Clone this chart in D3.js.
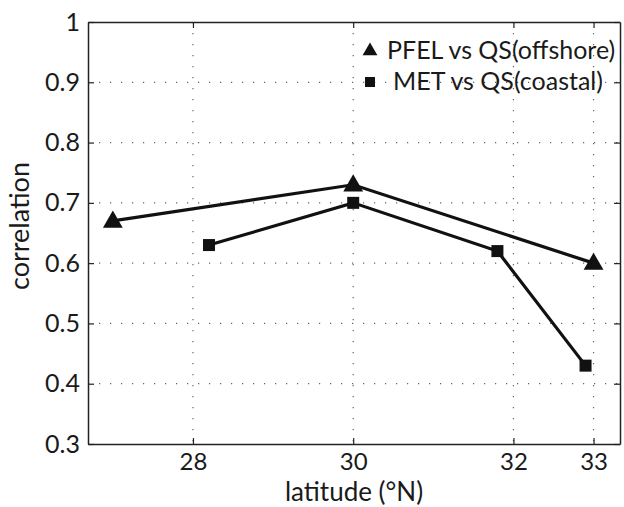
<!DOCTYPE html>
<html><head><meta charset="utf-8">
<script src="https://cdn.jsdelivr.net/npm/d3@7"></script>
<style>body{margin:0;background:#fff}svg{display:block}</style>
</head><body>
<svg id="c" width="624" height="507"></svg>
<script>
const pfelLat = [27.0, 30.0, 33.0];
const pfelCorr = [0.67, 0.73, 0.60];
const metLat = [28.2, 30.0, 31.8, 32.9];
const metCorr = [0.63, 0.70, 0.62, 0.43];
const xTicks = [28, 30, 32, 33];
const yTicks = [0.3, 0.4, 0.5, 0.6, 0.7, 0.8, 0.9, 1];
const legendLabels = ["PFEL vs QS(offshore)", "MET vs QS(coastal)"];

const font = "Lato, 'Open Sans', sans-serif";
const svg = d3.select("#c");
const L = 88, R = 620, T = 22, B = 444;
const x = d3.scaleLinear().domain([26.69, 33.33]).range([L, R]);
const y = d3.scaleLinear().domain([0.3, 1]).range([B, T]);

// grid
const g = svg.append("g");
g.selectAll(".gx").data(xTicks).join("line")
  .attr("x1", d => x(d)).attr("x2", d => x(d)).attr("y1", T).attr("y2", B)
  .attr("stroke", "#666").attr("stroke-width", 1.2).attr("stroke-dasharray", "1.2,9.8");
g.selectAll(".gy").data(yTicks.slice(1, -1)).join("line")
  .attr("x1", L).attr("x2", R).attr("y1", d => y(d)).attr("y2", d => y(d))
  .attr("stroke", "#666").attr("stroke-width", 1.2).attr("stroke-dasharray", "1.2,9.8");

// axes with inward ticks
const fmt = d => d === 1 ? "1" : d3.format(".1f")(d);
const axB = svg.append("g").attr("transform", `translate(0,${B})`)
  .call(d3.axisBottom(x).tickValues(xTicks).tickSizeInner(-6).tickSizeOuter(0).tickPadding(26).tickFormat(d3.format("d")));
const axT = svg.append("g").attr("transform", `translate(0,${T})`)
  .call(d3.axisTop(x).tickValues(xTicks).tickSizeInner(-6).tickSizeOuter(0).tickFormat(""));
const axL = svg.append("g").attr("transform", `translate(${L},0)`)
  .call(d3.axisLeft(y).tickValues(yTicks).tickSizeInner(-6).tickSizeOuter(0).tickPadding(8).tickFormat(fmt));
const axR = svg.append("g").attr("transform", `translate(${R},0)`)
  .call(d3.axisRight(y).tickValues(yTicks).tickSizeInner(-6).tickSizeOuter(0).tickFormat(""));
[axB, axT, axL, axR].forEach(a => {
  a.select(".domain").attr("stroke", "#222").attr("stroke-width", 1.5);
  a.selectAll(".tick line").attr("stroke", "#222").attr("stroke-width", 1.2);
  a.selectAll("text").attr("font-family", font).attr("font-size", 25).attr("fill", "#1a1a1a");
});
axB.selectAll("text").attr("dy", "0").attr("font-size", 24);

// lines
const line = d3.line().x(d => x(d[0])).y(d => y(d[1]));
const pfel = pfelLat.map((v, i) => [v, pfelCorr[i]]);
const met = metLat.map((v, i) => [v, metCorr[i]]);
svg.append("path").datum(pfel).attr("d", line).attr("fill", "none").attr("stroke", "#111").attr("stroke-width", 3.2);
svg.append("path").datum(met).attr("d", line).attr("fill", "none").attr("stroke", "#111").attr("stroke-width", 3.2);

const tri = d3.symbol().type(d3.symbolTriangle).size(170);
svg.selectAll(".tri").data(pfel).join("path")
  .attr("d", tri).attr("transform", d => `translate(${x(d[0])},${y(d[1]) + 1})`).attr("fill", "#111");
svg.selectAll(".sq").data(met).join("rect")
  .attr("x", d => x(d[0]) - 6).attr("y", d => y(d[1]) - 6).attr("width", 12).attr("height", 12).attr("fill", "#111");

// legend
const lg = svg.append("g");
lg.append("path").attr("d", d3.symbol().type(d3.symbolTriangle).size(95)).attr("transform", "translate(370,51)").attr("fill", "#111");
lg.append("rect").attr("x", 365).attr("y", 77).attr("width", 10).attr("height", 10).attr("fill", "#111");
lg.append("text").attr("x", 387).attr("y", 50).attr("dy", "0.35em").text(legendLabels[0])
  .attr("font-family", font).attr("font-size", 25).attr("fill", "#1a1a1a");
lg.append("text").attr("x", 393).attr("y", 81).attr("dy", "0.35em").text(legendLabels[1])
  .attr("font-family", font).attr("font-size", 25).attr("fill", "#1a1a1a");

// axis titles
svg.append("text").attr("x", (L + R) / 2).attr("y", 501).attr("text-anchor", "middle")
  .attr("font-family", font).attr("font-size", 26).attr("fill", "#1a1a1a").text("latitude (°N)");
svg.append("text").attr("transform", `translate(29,226) rotate(-90)`).attr("text-anchor", "middle")
  .attr("font-family", font).attr("font-size", 27).attr("fill", "#1a1a1a").text("correlation");
</script>
</body></html>
